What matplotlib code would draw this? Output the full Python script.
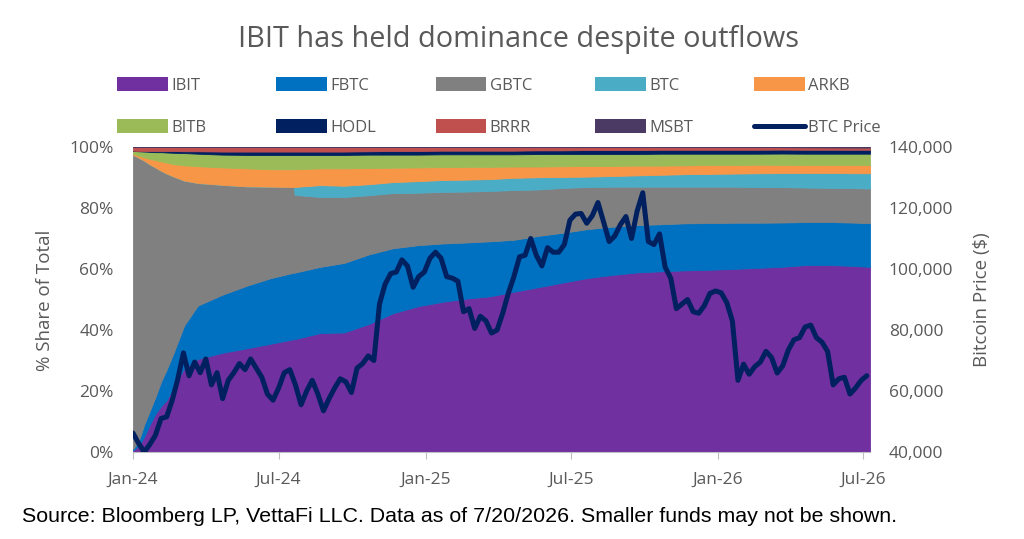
import numpy as np
import pandas as pd
import matplotlib
matplotlib.use('Agg')
import matplotlib.pyplot as plt
from matplotlib.patches import Patch
from matplotlib.lines import Line2D

plt.rcParams['font.family'] = ['Open Sans', 'DejaVu Sans']

# share of total AUM (%) by fund
share_dates = ['2024-01-11', '2024-01-18', '2024-01-25', '2024-02-01', '2024-02-08',
               '2024-02-15', '2024-02-22', '2024-03-01', '2024-03-15', '2024-04-01',
               '2024-05-01', '2024-06-01', '2024-07-01', '2024-07-30', '2024-07-31',
               '2024-09-01', '2024-10-01', '2024-11-01', '2024-12-01', '2025-01-01',
               '2025-02-01', '2025-03-01', '2025-04-01', '2025-05-01', '2025-06-01',
               '2025-07-01', '2025-08-01', '2025-09-01', '2025-10-01', '2025-11-01',
               '2025-12-01', '2026-01-01', '2026-02-01', '2026-03-01', '2026-04-01',
               '2026-05-01', '2026-06-01', '2026-07-01', '2026-07-20']

ibit = [0.5, 2.0, 5.0, 9.0, 12.5, 15.0, 17.0, 21.0, 27.5, 30.5,
        32.5, 34.0, 35.5, 37.0, 37.0, 39.0, 39.2, 42.0, 45.5, 47.8,
        49.2, 50.2, 51.0, 52.5, 54.0, 55.5, 57.0, 58.0, 58.8, 59.2,
        59.5, 59.7, 60.0, 60.3, 60.7, 61.3, 61.3, 61.0, 60.7]
fbtc = [0.5, 1.5, 4.0, 4.5, 5.5, 8.0, 10.0, 11.0, 14.0, 17.5,
        19.0, 20.5, 21.5, 21.8, 21.8, 21.7, 22.8, 22.8, 21.3, 20.0,
        19.1, 18.4, 18.0, 17.0, 16.8, 16.3, 16.0, 15.8, 15.5, 15.4,
        15.4, 15.3, 15.1, 14.8, 14.5, 14.1, 14.1, 14.2, 14.3]
gbtc = [96.4, 93.0, 86.5, 80.8, 75.3, 69.2, 64.3, 58.4, 47.5, 40.2,
        36.1, 32.6, 30.0, 28.1, 25.5, 22.9, 21.6, 19.4, 18.1, 17.2,
        16.9, 16.7, 16.5, 16.3, 15.2, 14.7, 13.8, 13.1, 12.6, 12.3,
        12.0, 11.9, 11.8, 11.7, 11.6, 11.3, 11.2, 11.3, 11.4]
btc = [0, 0, 0, 0, 0, 0, 0, 0, 0, 0,
       0, 0, 0, 0, 2.6, 3.9, 3.7, 3.6, 3.6, 3.8,
       3.9, 3.9, 3.9, 4.0, 4.0, 3.6, 3.4, 3.5, 3.7, 3.9,
       4.1, 4.2, 4.3, 4.5, 4.6, 4.8, 4.9, 4.9, 5.0]
arkb = [0.4, 0.7, 1.1, 1.8, 2.4, 3.1, 3.6, 4.0, 5.0, 5.5,
        5.7, 5.9, 5.7, 5.8, 5.8, 5.5, 5.7, 5.3, 4.7, 4.5,
        4.2, 4.2, 4.0, 3.7, 3.5, 3.5, 3.5, 3.3, 3.2, 3.0,
        2.9, 2.9, 2.8, 2.8, 2.7, 2.6, 2.6, 2.7, 2.7]
bitb = [0.9, 1.4, 1.9, 2.3, 2.6, 3.0, 3.3, 3.7, 4.0, 4.1,
        4.2, 4.4, 4.7, 4.7, 4.7, 4.4, 4.4, 4.4, 4.3, 4.2,
        4.2, 4.1, 4.1, 4.0, 4.1, 4.0, 3.9, 3.9, 3.8, 3.9,
        3.8, 3.7, 3.7, 3.6, 3.7, 3.7, 3.7, 3.7, 3.7]
hodl = [0.1, 0.1, 0.2, 0.3, 0.4, 0.4, 0.5, 0.6, 0.6, 0.8,
        1.0, 1.1, 1.1, 1.1, 1.1, 1.1, 1.1, 1.1, 1.2, 1.2,
        1.2, 1.2, 1.2, 1.2, 1.2, 1.2, 1.3, 1.3, 1.3, 1.3,
        1.3, 1.3, 1.3, 1.3, 1.3, 1.3, 1.3, 1.3, 1.3]
brrr = [1.2, 1.3, 1.3, 1.3, 1.3, 1.3, 1.3, 1.3, 1.4, 1.4,
        1.5, 1.5, 1.5, 1.5, 1.5, 1.5, 1.5, 1.4, 1.3, 1.3,
        1.2, 1.2, 1.2, 1.2, 1.1, 1.1, 1.0, 1.0, 1.0, 0.9,
        0.9, 0.9, 0.9, 0.9, 0.8, 0.8, 0.75, 0.7, 0.7]
msbt = [0, 0, 0, 0, 0, 0, 0, 0, 0, 0,
        0, 0, 0, 0, 0, 0, 0, 0, 0, 0,
        0, 0, 0, 0, 0, 0, 0, 0, 0, 0,
        0, 0, 0, 0, 0.05, 0.1, 0.15, 0.2, 0.2]

fund_names = ['IBIT', 'FBTC', 'GBTC', 'BTC', 'ARKB', 'BITB', 'HODL', 'BRRR', 'MSBT']
fund_colors = ['#7030A0', '#0070C0', '#808080', '#4BACC6', '#F79646',
               '#9BBB59', '#002060', '#C0504D', '#4B3A63']

# weekly bitcoin price ($) starting at launch day
price_start = '2024-01-11'
btc_price = [46200, 42800, 40000, 42500, 45500, 51000, 51500, 57000, 64000, 72500,
             65000, 69500, 66000, 70500, 62000, 66000, 57500, 63500, 66000, 69000,
             67000, 70500, 67500, 64500, 59000, 57000, 61000, 66000, 67000, 62000,
             55500, 60000, 63500, 59000, 53500, 57500, 61000, 64000, 63000, 59500,
             67500, 69000, 71500, 70000, 88500, 95000, 98500, 99000, 103000, 101000,
             94000, 97500, 99000, 103500, 105500, 103500, 97500, 97000, 96000, 86000,
             87000, 80500, 84500, 83000, 79000, 80000, 85500, 92000, 97500, 104000,
             104500, 110000, 104500, 101000, 107000, 105500, 105500, 108000, 116000, 118000,
             118200, 115000, 117500, 121800, 115500, 109000, 110800, 114500, 117200, 110000,
             119000, 125000, 109000, 108000, 111500, 100600, 97000, 87000, 88500, 90000,
             86000, 85500, 88000, 92000, 92800, 92200, 89000, 83000, 63500, 68800,
             65500, 68000, 69500, 73000, 71000, 65900, 68300, 73500, 76800, 77500,
             81000, 81600, 77500, 76000, 73000, 62000, 64000, 64500, 59000, 61000,
             63500, 65000]

tick_dates = ['2024-01-11', '2024-07-11', '2025-01-11', '2025-07-11', '2026-01-11', '2026-07-11']
tick_labels = ['Jan-24', 'Jul-24', 'Jan-25', 'Jul-25', 'Jan-26', 'Jul-26']

grey = '#595959'

fig = plt.figure(figsize=(10.24, 5.39), dpi=100)
ax = fig.add_axes([0.1299, 0.1614, 0.7197, 0.5659])

d = pd.to_datetime(share_dates)
stack = np.array([ibit, fbtc, gbtc, btc, arkb, bitb, hodl, brrr, msbt], dtype=float)
stack = stack / stack.sum(axis=0) * 100   # 100% stacked
polys = ax.stackplot(d, stack, colors=fund_colors, linewidth=0.6)
for p, c in zip(polys, fund_colors):
    p.set_edgecolor(c)

ax.set_xlim(d[0], d[-1])
ax.set_ylim(0, 100)
ax.set_yticks(range(0, 101, 20))
ax.set_yticklabels([f'{v}%' for v in range(0, 101, 20)])
ax.set_xticks(pd.to_datetime(tick_dates))
ax.set_xticklabels(tick_labels)
for s in ['top', 'left', 'right']:
    ax.spines[s].set_visible(False)
ax.spines['bottom'].set_color('#BFBFBF')
ax.tick_params(axis='y', length=0, pad=14, labelsize=12.5, labelcolor=grey)
ax.tick_params(axis='x', length=5, color='#BFBFBF', pad=9, labelsize=12.5, labelcolor=grey)

ax2 = ax.twinx()
pdates = pd.date_range(price_start, periods=len(btc_price), freq='7D')
ax2.plot(pdates, btc_price, color='#002060', lw=3.6, solid_joinstyle='round',
         solid_capstyle='round')
ax2.set_ylim(40000, 140000)
ax2.set_yticks(range(40000, 140001, 20000))
ax2.set_yticklabels([f'{v:,}' for v in range(40000, 140001, 20000)])
for s in ['top', 'left', 'right', 'bottom']:
    ax2.spines[s].set_visible(False)
ax2.tick_params(axis='y', length=0, pad=13.5, labelsize=12.5, labelcolor=grey)

fig.text(45 / 1024, 1 - 300 / 539, '% Share of Total', rotation=90, ha='center',
         va='center', fontsize=13.5, color=grey)
fig.text(982 / 1024, 1 - 300 / 539, 'Bitcoin Price ($)', rotation=90, ha='center',
         va='center', fontsize=13.5, color=grey)

fig.text(0.506, 1 - 40 / 539, 'IBIT has held dominance despite outflows',
         ha='center', va='center', fontsize=20.8, color=grey)

fig.text(22 / 1024, 1 - 517 / 539,
         'Source: Bloomberg LP, VettaFi LLC. Data as of 7/20/2026. Smaller funds may not be shown.',
         ha='left', va='center', fontsize=15.4, color='black', family='Liberation Sans')

# legend: 5 columns x 2 rows, filled row by row
handles = [Patch(facecolor=c, edgecolor='none') for c in fund_colors]
handles.append(Line2D([], [], color='#002060', lw=3.6, solid_capstyle='round'))
labels = fund_names + ['BTC Price']
for col in range(5):
    fig.legend([handles[col], handles[col + 5]], [labels[col], labels[col + 5]],
               loc='upper left', bbox_to_anchor=((117 + 159.3 * col) / 1024, 1 - 77.5 / 539),
               frameon=False, borderpad=0, borderaxespad=0, fontsize=12,
               handlelength=3.04, handleheight=0.86, handletextpad=0.2,
               labelspacing=1.52, labelcolor=grey)

fig.savefig('out.png', dpi=100)
